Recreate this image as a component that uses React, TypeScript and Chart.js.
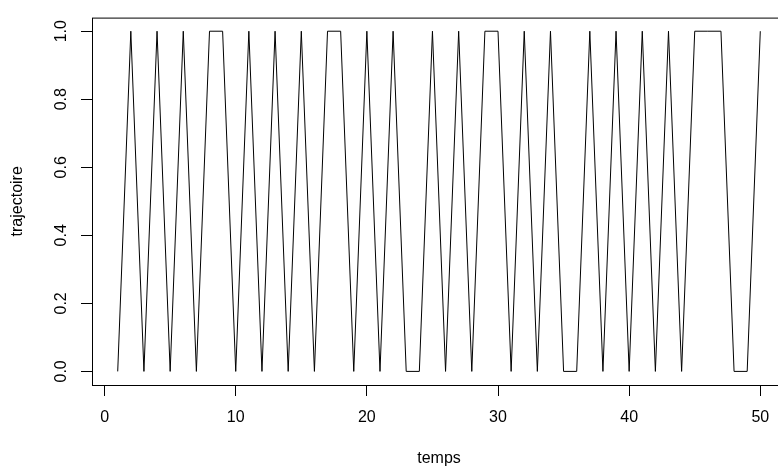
import React, { useEffect, useRef } from "react";
import { Chart, registerables } from "chart.js";

Chart.register(...registerables);

const temps = [
  1, 2, 3, 4, 5, 6, 7, 8, 9, 10,
  11, 12, 13, 14, 15, 16, 17, 18, 19, 20,
  21, 22, 23, 24, 25, 26, 27, 28, 29, 30,
  31, 32, 33, 34, 35, 36, 37, 38, 39, 40,
  41, 42, 43, 44, 45, 46, 47, 48, 49, 50,
];

const trajectoire = [
  0, 1, 0, 1, 0, 1, 0, 1, 1, 0,
  1, 0, 1, 0, 1, 0, 1, 1, 0, 1,
  0, 1, 0, 0, 1, 0, 1, 0, 1, 1,
  0, 1, 0, 1, 0, 0, 1, 0, 1, 0,
  1, 0, 1, 0, 1, 1, 1, 0, 0, 1,
];

const xTicks = [0, 10, 20, 30, 40, 50];
const xTickLabels = ["0", "10", "20", "30", "40", "50"];
const yTicks = [0, 0.2, 0.4, 0.6, 0.8, 1.0];
const yTickLabels = ["0.0", "0.2", "0.4", "0.6", "0.8", "1.0"];

const FONT = "'Liberation Sans', Arial, Helvetica, sans-serif";

const boxPlugin = {
  id: "rbox",
  afterDraw(chart: any) {
    const { ctx, chartArea } = chart;
    const { left, right, top, bottom } = chartArea;
    ctx.save();
    ctx.strokeStyle = "#000";
    ctx.lineWidth = 1;
    ctx.strokeRect(left + 0.5, top + 0.5, right - left, bottom - top);
    ctx.restore();
  },
};

export default function App() {
  const ref = useRef<HTMLCanvasElement>(null);

  useEffect(() => {
    if (!ref.current) return;
    const chart = new Chart(ref.current, {
      type: "line",
      data: {
        datasets: [
          {
            data: temps.map((t, i) => ({ x: t, y: trajectoire[i] })),
            borderColor: "#000",
            borderWidth: 1,
            pointRadius: 0,
            tension: 0,
            fill: false,
          },
        ],
      },
      options: {
        animation: false,
        responsive: false,
        devicePixelRatio: 1,
        layout: { padding: { top: 7, right: 14, left: 0, bottom: 0 } },
        plugins: {
          legend: { display: false },
          tooltip: { enabled: false },
        },
        scales: {
          x: {
            type: "linear",
            min: -0.96,
            max: 51.96,
            afterBuildTicks: (s: any) => {
              s.ticks = xTicks.map((v) => ({ value: v }));
            },
            afterFit: (s: any) => {
              s.height = 87;
            },
            grid: {
              drawOnChartArea: false,
              drawTicks: true,
              tickLength: 11,
              color: "#000",
              lineWidth: 1,
            },
            border: { display: false },
            ticks: {
              color: "#000",
              font: { family: FONT, size: 16 },
              padding: 12,
              maxRotation: 0,
              minRotation: 0,
              autoSkip: false,
              callback: (v: any) => {
                const i = xTicks.indexOf(Number(v));
                return i >= 0 ? xTickLabels[i] : "";
              },
            },
            title: {
              display: true,
              text: "temps",
              color: "#000",
              font: { family: FONT, size: 16 },
              padding: { top: 0, bottom: 4 },
            },
          },
          y: {
            type: "linear",
            min: -0.04,
            max: 1.04,
            afterBuildTicks: (s: any) => {
              s.ticks = yTicks.map((v) => ({ value: v }));
            },
            afterFit: (s: any) => {
              s.width = 92;
            },
            grid: {
              drawOnChartArea: false,
              drawTicks: true,
              tickLength: 11,
              color: "#000",
              lineWidth: 1,
            },
            border: { display: false },
            ticks: {
              color: "#000",
              font: { family: FONT, size: 16 },
              padding: 8,
              minRotation: 90,
              maxRotation: 90,
              crossAlign: "center",
              autoSkip: false,
              callback: (v: any) => {
                const i = yTicks.findIndex((t) => Math.abs(t - Number(v)) < 1e-9);
                return i >= 0 ? yTickLabels[i] : "";
              },
            },
            title: {
              display: true,
              text: "trajectoire",
              color: "#000",
              font: { family: FONT, size: 16 },
              padding: { top: 8, bottom: 0 },
            },
          },
        },
      },
      plugins: [boxPlugin],
    } as any);
    return () => chart.destroy();
  }, []);

  return (
    <div
      style={{
        position: "fixed",
        left: 0,
        top: 0,
        width: 778,
        height: 472,
        overflow: "hidden",
        background: "#fff",
      }}
    >
      <canvas
        ref={ref}
        width={800}
        height={472}
        style={{ width: 800, height: 472, display: "block" }}
      />
    </div>
  );
}
